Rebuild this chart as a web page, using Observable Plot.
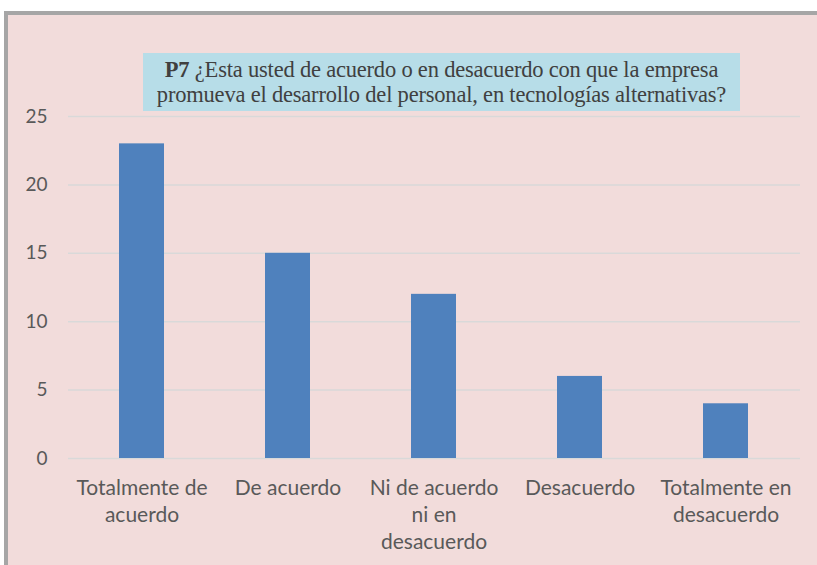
<!DOCTYPE html>
<html><head><meta charset="utf-8">
<script src="https://cdn.jsdelivr.net/npm/d3@7"></script>
<script src="https://cdn.jsdelivr.net/npm/@observablehq/plot@0.6"></script>
<style>
body{margin:0;background:#fff;width:817px;height:565px;overflow:hidden;position:relative;font-family:Lato,sans-serif}
#frame{position:absolute;left:4px;top:11px;width:830px;height:570px;background:#f2dcdb;border-left:4px solid #a6a6a6;border-top:4px solid #a6a6a6}
#chart{position:absolute;left:0;top:0}
#title{position:absolute;left:143px;top:53px;width:597px;height:58px;background:#b7dde8;font-family:"Liberation Serif",serif;font-size:22.5px;color:#404040;text-align:center;line-height:25px;padding-top:4px;box-sizing:border-box;white-space:nowrap;letter-spacing:-0.2px}
</style></head>
<body>
<div id="frame"></div>
<div id="chart"></div>
<div id="title"><b>P7</b> ¿Esta usted de acuerdo o en desacuerdo con que la empresa<br>promueva el desarrollo del personal, en tecnologías alternativas?</div>
<script>
const categories = ["Totalmente de acuerdo","De acuerdo","Ni de acuerdo ni en desacuerdo","Desacuerdo","Totalmente en desacuerdo"];
const tickLabels = ["Totalmente de\nacuerdo","De acuerdo","Ni de acuerdo\nni en\ndesacuerdo","Desacuerdo","Totalmente en\ndesacuerdo"];
const values = [23,15,12,6,4];
const yTicks = [0,5,10,15,20,25];
const data = categories.map((c,i)=>({cat:c,value:values[i]}));
const labelOf = new Map(categories.map((c,i)=>[c,tickLabels[i]]));
const plot = Plot.plot({
  width:817,height:565,
  marginLeft:68,marginRight:17,marginTop:116,marginBottom:107,
  style:{background:"transparent",fontFamily:"Lato, sans-serif",color:"#595959"},
  x:{domain:categories,paddingInner:0.69,paddingOuter:0.345},
  y:{domain:[0,25]},
  marks:[
    Plot.gridY(yTicks,{stroke:"#d9d9d9",strokeOpacity:1,strokeWidth:1.5}),
    Plot.barY(data,{x:"cat",y:"value",fill:"#4f81bd"}),
    Plot.axisY(yTicks,{tickSize:0,tickPadding:21,fontSize:19,fill:"#595959",label:null}),
    Plot.axisX({tickSize:0,tickPadding:17,fontSize:21,fill:"#595959",lineHeight:1.3,label:null,tickFormat:d=>labelOf.get(d)})
  ]
});
document.getElementById("chart").appendChild(plot);
</script>
</body></html>
